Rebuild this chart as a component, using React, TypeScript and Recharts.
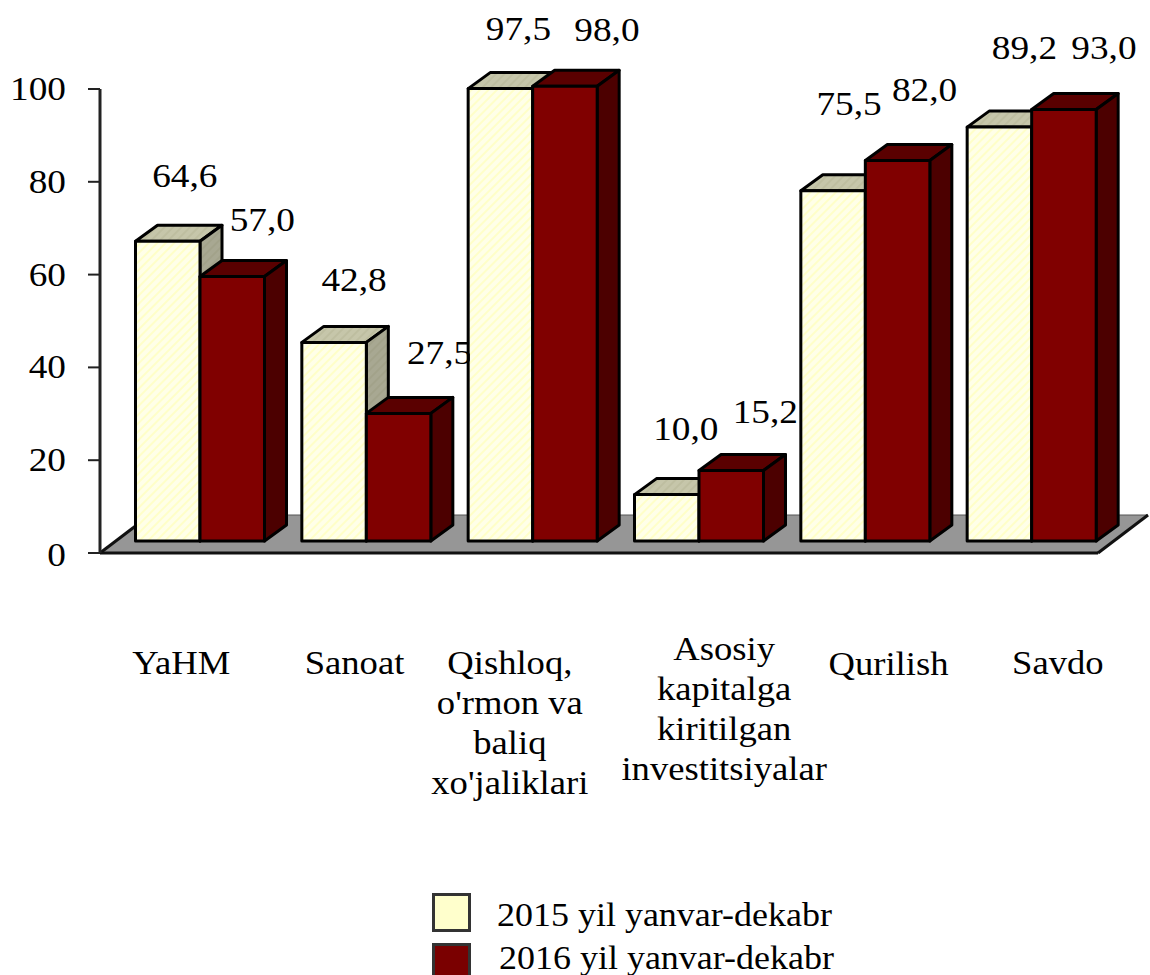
import { Bar, BarChart, LabelList, Legend, XAxis, YAxis, usePlotArea } from "recharts"

const categories = ["YaHM", "Sanoat", "Qishloq,\no'rmon va\nbaliq\nxo'jaliklari", "Asosiy\nkapitalga\nkiritilgan\ninvestitsiyalar", "Qurilish", "Savdo"]
const values2015 = [64.6, 42.8, 97.5, 10.0, 75.5, 89.2]
const values2016 = [57.0, 27.5, 98.0, 15.2, 82.0, 93.0]
const yTicks = [0, 20, 40, 60, 80, 100]

// hand placed, the original labels don't sit on the bars
const labelShift2015 = [[17, -54], [20, -51], [18, -49], [19, -55], [16, -76], [25, -68]]
const labelShift2016 = [[30, -46], [41, -49], [42, -45], [34, -47], [27, -60], [40, -50]]
const tickShift = [[-2, -9], [5, -9], [-6, -9], [42, -23], [40, -8], [43, -9]]

const FONT = "'Liberation Serif', serif"
const FONT_SIZE = 33
// the reference text is wider than the font
const STRETCH = 1.13
const STRETCH_CATEGORY = 1.11
const STRETCH_LEGEND = 1.09
const DEPTH_X = 22
const DEPTH_Y = 16
const SHIFT_X = 16.5
const SHIFT_Y = -12

const chartData = categories.map((name, i) => ({ name, a: values2015[i], b: values2016[i] }))

function WideText({ x, y, anchor = "middle", stretch = STRETCH, children }: any) {
  return (
    <text transform={`translate(${x} ${y}) scale(${stretch} 1)`} textAnchor={anchor} fontFamily={FONT} fontSize={FONT_SIZE} fill="#000">
      {children}
    </text>
  )
}

function Box({ x, y, width, height, front, top, side }: any) {
  const l = x + SHIFT_X
  const r = l + width
  const t = y + SHIFT_Y
  const b = t + height
  return (
    <g stroke="#000" strokeWidth={3} strokeLinejoin="round">
      <polygon points={`${l},${t} ${l + DEPTH_X},${t - DEPTH_Y} ${r + DEPTH_X},${t - DEPTH_Y} ${r},${t}`} fill={top} />
      <polygon points={`${r},${t} ${r + DEPTH_X},${t - DEPTH_Y} ${r + DEPTH_X},${b - DEPTH_Y} ${r},${b}`} fill={side} />
      <rect x={l} y={t} width={width} height={height} fill={front} />
    </g>
  )
}

function Floor() {
  const area = usePlotArea()
  if (!area) return null
  const x0 = area.x
  const x1 = area.x + area.width
  const y = area.y + area.height
  return (
    <g>
      <polygon points={`${x0},${y} ${x0 + 50},${y - 38} ${x1 + 50},${y - 38} ${x1},${y}`} fill="#969696" stroke="#555" strokeWidth={1} />
      <line x1={x0} y1={y} x2={x0 + 50} y2={y - 38} stroke="#111" strokeWidth={3} />
      <line x1={x1} y1={y} x2={x1 + 50} y2={y - 38} stroke="#111" strokeWidth={3} />
    </g>
  )
}

function CategoryTick({ x, y, payload, index }: any) {
  const [dx, dy] = tickShift[index]
  const lines = String(payload.value).split("\n")
  return (
    <g>
      {lines.map((line, i) => (
        <WideText key={i} x={x + dx} y={y + 122 + dy + i * 40} stretch={STRETCH_CATEGORY}>{line}</WideText>
      ))}
    </g>
  )
}

function ValueTick({ x, y, payload }: any) {
  // the 0 sits a little under its tick in the reference
  const nudge = payload.value === 0 ? 13 : 11
  return <WideText x={x} y={y + nudge} anchor="end">{payload.value}</WideText>
}

function valueLabel(shifts: number[][], seriesKey: string) {
  return ({ x, y, width, value, index }: any) => {
    const [dx, dy] = shifts[index]
    const cx = x + SHIFT_X + width / 2 + dx
    const text = Number(value).toFixed(1).replace(".", ",")
    // 27,5 runs behind the next bar in the original
    const cut = seriesKey === "b" && index === 1
    const clipId = `cut-${seriesKey}-${index}`
    return (
      <g clipPath={cut ? `url(#${clipId})` : undefined}>
        {cut && (
          <clipPath id={clipId}>
            <rect x={0} y={0} width={x + SHIFT_X + width + 39} height={975} />
          </clipPath>
        )}
        <WideText x={cx} y={y + SHIFT_Y + dy}>{text}</WideText>
      </g>
    )
  }
}

function ChartLegend({ payload }: any) {
  return (
    <div style={{ position: "relative", height: 0, width: 0 }}>
      {(payload || []).map((item: any, i: number) => (
        <div key={item.value}>
          <div style={{ position: "absolute", left: 0, top: i * 49.5, width: 33, height: 33, background: item.color, border: "3px solid #333" }} />
          <div
            style={{
              position: "absolute",
              left: 65 + i * 2,
              top: i * 43 + 2,
              whiteSpace: "nowrap",
              fontFamily: FONT,
              fontSize: FONT_SIZE,
              lineHeight: "40px",
              color: "#000",
              transform: `scaleX(${STRETCH_LEGEND})`,
              transformOrigin: "left center",
            }}
          >
            {item.value}
          </div>
        </div>
      ))}
    </div>
  )
}

export default function App() {
  return (
    <div style={{ position: "absolute", left: 0, top: 0, width: 1150, height: 975, overflow: "hidden", background: "#fff" }}>
      <BarChart
        width={1150}
        height={975}
        data={chartData}
        margin={{ top: 89, right: 52, bottom: 0, left: 0 }}
        barSize={64.5}
        barGap={0}
        style={{ background: "#fff" }}
      >
        <defs>
          <pattern id="hatchFront" width="6" height="6" patternUnits="userSpaceOnUse" patternTransform="rotate(45)">
            <rect width="6" height="6" fill="#ffffe8" />
            <rect width="2" height="6" fill="#ffffc8" />
          </pattern>
          <pattern id="hatchTop" width="6" height="6" patternUnits="userSpaceOnUse" patternTransform="rotate(45)">
            <rect width="6" height="6" fill="#c6c6aa" />
            <rect width="2" height="6" fill="#bebea0" />
          </pattern>
          <pattern id="hatchSide" width="6" height="6" patternUnits="userSpaceOnUse" patternTransform="rotate(45)">
            <rect width="6" height="6" fill="#a8a892" />
            <rect width="2" height="6" fill="#a2a28a" />
          </pattern>
        </defs>
        <Floor />
        <XAxis dataKey="name" height={422} interval={0} tick={<CategoryTick />} tickLine={false} axisLine={{ stroke: "#111", strokeWidth: 3 }} />
        <YAxis
          width={100}
          domain={[0, 100]}
          ticks={yTicks}
          tickSize={12}
          tickMargin={22}
          tick={<ValueTick />}
          tickLine={{ stroke: "#222", strokeWidth: 2 }}
          axisLine={{ stroke: "#222", strokeWidth: 3 }}
        />
        <Legend
          content={<ChartLegend />}
          wrapperStyle={{ position: "absolute", left: 432, top: 893, bottom: "auto", width: 0, height: 0 }}
        />
        <Bar
          dataKey="a"
          name="2015 yil yanvar-dekabr"
          fill="#ffffcc"
          isAnimationActive={false}
          shape={(props: any) => <Box {...props} front="url(#hatchFront)" top="url(#hatchTop)" side="url(#hatchSide)" />}
        >
          <LabelList dataKey="a" content={valueLabel(labelShift2015, "a")} />
        </Bar>
        <Bar
          dataKey="b"
          name="2016 yil yanvar-dekabr"
          fill="#7a0000"
          isAnimationActive={false}
          shape={(props: any) => <Box {...props} front="#800000" top="#5a0000" side="#4c0000" />}
        >
          <LabelList dataKey="b" content={valueLabel(labelShift2016, "b")} />
        </Bar>
      </BarChart>
    </div>
  )
}
